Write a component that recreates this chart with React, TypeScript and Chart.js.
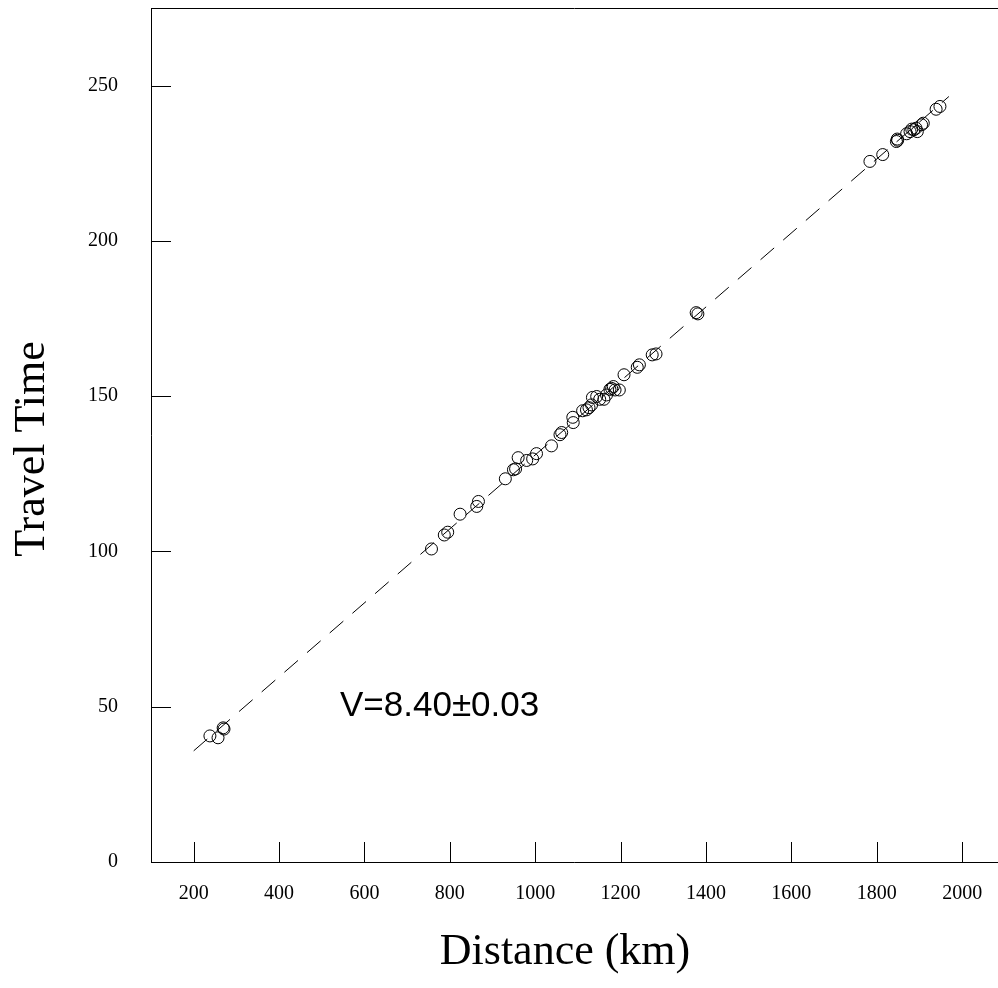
import React, { useEffect, useRef } from "react";
import { Chart, registerables } from "chart.js";

Chart.register(...registerables);

const DISTANCE = [
  238, 257, 269, 271,
  757, 787, 795, 824, 863, 867, 930, 949, 954, 960, 980, 994, 1003, 1038, 1058, 1062,
  1088, 1089, 1111, 1120, 1126, 1132, 1134, 1144, 1151, 1161, 1167, 1175, 1179, 1183,
  1187, 1197, 1208, 1239, 1244, 1274, 1283, 1377, 1381,
  1784, 1814, 1846, 1848, 1849, 1870, 1878, 1882, 1887, 1892, 1895, 1905, 1909, 1939, 1948,
];
const TRAVEL_TIME = [
  40.6, 40.0, 43.2, 42.8,
  100.8, 105.3, 106.2, 112.0, 114.5, 116.1, 123.4, 126.3, 126.6, 130.2, 129.3, 129.8, 131.5, 134.0, 137.6, 138.3,
  143.2, 141.5, 145.3, 145.6, 146.3, 147.2, 149.6, 149.9, 149.0, 149.0, 150.4, 152.2, 152.5, 153.1,
  152.0, 152.0, 156.9, 159.3, 160.1, 163.3, 163.6, 176.9, 176.5,
  225.6, 227.8, 232.0, 232.8, 232.4, 234.5, 235.2, 236.0, 235.8, 236.3, 235.2, 237.4, 237.9, 242.4, 243.3,
];

// Fitted line end points
const FIT_X = [200, 1969];
const FIT_Y = [35.8, 246.5];

const X_TICKS = [200, 400, 600, 800, 1000, 1200, 1400, 1600, 1800, 2000];
const Y_TICKS = [0, 50, 100, 150, 200, 250];

const X_TITLE = "Distance (km)";
const Y_TITLE = "Travel Time";
const ANNOTATION = "V=8.40\u00b10.03";

const SERIF = "'Liberation Serif', 'Times New Roman', serif";
const SANS = "'Liberation Sans', Arial, sans-serif";

const W = 998;
const H = 988;

const zeroPad = (s: any) => {
  s.paddingTop = 0;
  s.paddingBottom = 0;
  s.paddingLeft = 0;
  s.paddingRight = 0;
};

const framePlugin = {
  id: "frame",
  afterDatasetsDraw(chart: any) {
    const ctx = chart.ctx as CanvasRenderingContext2D;
    const { left, right, top, bottom } = chart.chartArea;
    const xs = chart.scales.x;
    const ys = chart.scales.y;
    ctx.save();
    ctx.strokeStyle = "#000";
    ctx.lineWidth = 1;
    ctx.setLineDash([]);
    ctx.beginPath();
    // frame: left, top, bottom
    ctx.moveTo(left + 0.5, top);
    ctx.lineTo(left + 0.5, bottom + 0.5);
    ctx.lineTo(right, bottom + 0.5);
    ctx.moveTo(left, top + 0.5);
    ctx.lineTo(right, top + 0.5);
    // inward ticks
    X_TICKS.forEach((v) => {
      const px = Math.round(xs.getPixelForValue(v)) + 0.5;
      ctx.moveTo(px, bottom);
      ctx.lineTo(px, bottom - 20);
    });
    Y_TICKS.forEach((v) => {
      const py = Math.round(ys.getPixelForValue(v)) + 0.5;
      ctx.moveTo(left, py);
      ctx.lineTo(left + 20, py);
    });
    ctx.stroke();

    // axis titles
    ctx.fillStyle = "#000";
    ctx.font = `44px ${SERIF}`;
    ctx.textAlign = "center";
    ctx.textBaseline = "alphabetic";
    ctx.fillText(X_TITLE, 565, 964);
    ctx.save();
    ctx.translate(44, 449);
    ctx.rotate(-Math.PI / 2);
    ctx.fillText(Y_TITLE, 0, 0);
    ctx.restore();

    // annotation
    ctx.font = `35px ${SANS}`;
    ctx.textAlign = "left";
    ctx.fillText(ANNOTATION, 340, 716);
    ctx.restore();
  },
};

export default function App() {
  const ref = useRef<HTMLCanvasElement>(null);
  useEffect(() => {
    document.body.style.margin = "0";
    const canvas = ref.current!;
    const points = DISTANCE.map((d, i) => ({ x: d, y: TRAVEL_TIME[i] }));
    const fit = FIT_X.map((d, i) => ({ x: d, y: FIT_Y[i] }));
    const chart = new Chart(canvas, {
      type: "scatter",
      data: {
        datasets: [
          {
            type: "line",
            data: fit,
            borderColor: "#000",
            borderWidth: 1,
            borderDash: [18, 12],
            pointRadius: 0,
            fill: false,
          } as any,
          {
            data: points,
            pointStyle: "circle",
            pointRadius: 6,
            pointBorderWidth: 1,
            pointBorderColor: "#000",
            pointBackgroundColor: "rgba(0,0,0,0)",
          } as any,
        ],
      },
      options: {
        responsive: false,
        animation: false,
        devicePixelRatio: 1,
        layout: { autoPadding: false, padding: { left: 0, top: 8, right: 0, bottom: 0 } },
        plugins: { legend: { display: false }, tooltip: { enabled: false }, title: { display: false } },
        scales: {
          x: {
            type: "linear",
            min: 100,
            max: 2084,
            grid: { display: false, drawTicks: false, tickLength: 0 },
            border: { display: false },
            afterBuildTicks: (s: any) => {
              s.ticks = X_TICKS.map((v) => ({ value: v }));
            },
            afterFit: (s: any) => {
              s.height = 126;
              zeroPad(s);
            },
            ticks: {
              padding: 20,
              maxRotation: 0,
              autoSkip: false,
              color: "#000",
              font: { family: SERIF, size: 20 },
              callback: (v: any) => String(v),
            },
          },
          y: {
            type: "linear",
            min: 0,
            max: 275,
            grid: { display: false, drawTicks: false, tickLength: 0 },
            border: { display: false },
            afterBuildTicks: (s: any) => {
              s.ticks = Y_TICKS.map((v) => ({ value: v }));
            },
            afterFit: (s: any) => {
              s.width = 151;
              zeroPad(s);
            },
            ticks: {
              padding: 33,
              autoSkip: false,
              color: "#000",
              font: { family: SERIF, size: 20 },
              callback: (v: any) => String(v),
            },
          },
        },
      },
      plugins: [framePlugin],
    });
    return () => chart.destroy();
  }, []);
  return (
    <div style={{ position: "fixed", left: 0, top: 0, width: W, height: H, background: "#fff" }}>
      <canvas ref={ref} width={W} height={H} style={{ width: W, height: H, display: "block" }} />
    </div>
  );
}
